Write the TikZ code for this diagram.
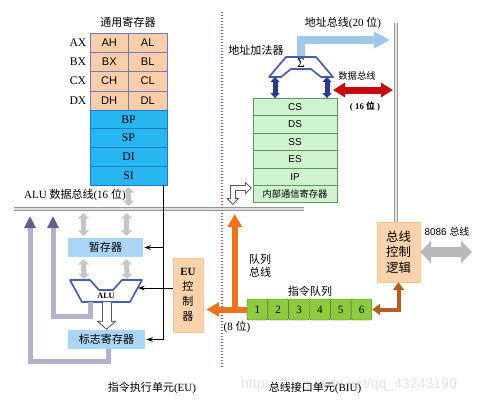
\documentclass[tikz,border=0pt]{standalone}
\usepackage{fontspec}
\setmainfont{Liberation Serif}
\setsansfont{Liberation Sans}
\newfontfamily\cjk{Noto Sans CJK SC}
\usetikzlibrary{arrows.meta,calc,positioning}
\definecolor{regorange}{RGB}{250,206,168}
\definecolor{regedge}{RGB}{112,122,192}
\definecolor{regblue}{RGB}{40,182,240}
\definecolor{regblueedge}{RGB}{30,120,200}
\definecolor{boxblue}{RGB}{170,213,245}
\definecolor{peach}{RGB}{250,210,172}
\definecolor{seggreen}{RGB}{206,243,206}
\definecolor{segedge}{RGB}{95,150,95}
\definecolor{qgreen}{RGB}{142,202,62}
\definecolor{qedge}{RGB}{72,120,32}
\definecolor{divcol}{RGB}{165,85,140}
\definecolor{redbus}{RGB}{200,10,10}
\definecolor{qorange}{RGB}{236,116,30}
\definecolor{qbrown}{RGB}{182,92,32}
\definecolor{addrblue}{RGB}{160,200,232}
\definecolor{lavender}{RGB}{178,178,204}
\definecolor{slate}{RGB}{96,96,136}
\definecolor{busgray}{RGB}{150,150,150}
\definecolor{sumnavy}{RGB}{44,56,140}
\definecolor{sumedge}{RGB}{72,92,172}
\tikzset{
  hreg/.style={draw=regedge, fill=regorange, minimum width=11.55mm, minimum height=5.78mm,
    inner sep=0pt, font=\sffamily\fontsize{9.5}{11}\selectfont},
  preg/.style={draw=regblueedge, fill=regblue, minimum width=23.1mm, minimum height=5.63mm,
    inner sep=0pt, font=\fontsize{10}{11}\selectfont},
  sreg/.style={draw=segedge, fill=seggreen, minimum width=25.2mm, minimum height=5.22mm,
    inner sep=0pt, font=\sffamily\fontsize{8.5}{10}\selectfont},
  qcell/.style={draw=qedge, fill=qgreen, rounded corners=0.4mm, minimum width=6.25mm,
    minimum height=6.3mm, inner sep=0pt, font=\fontsize{9.5}{11}\selectfont},
  ubox/.style={fill=boxblue, minimum width=22.5mm, minimum height=5.7mm, inner sep=0pt,
    font=\cjk\fontsize{9.4}{11}\selectfont},
  cbox/.style={fill=peach, draw=peach!85!orange, inner sep=0pt},
  hbus/.style={draw=busgray, line width=0.5mm, double=gray!25, double distance=0.4mm},
  vbus/.style={draw=busgray, line width=0.45mm, double=gray!20, double distance=0.5mm},
  divider/.style={draw=divcol, line width=0.4mm, dash pattern=on 0.4mm off 0.5mm},
  grayarrow/.style={draw=gray!45, line width=1.5mm,
    {Triangle[width=3.3mm,length=1.6mm]}-{Triangle[width=3.3mm,length=1.6mm]}},
  flagpath/.style={draw=lavender, line width=1.5mm, line join=miter,
    -{Triangle[width=3.3mm,length=3.6mm,color=slate]}},
  ctrl/.style={draw=black, line width=0.3mm, -{Stealth[length=2mm,width=1.4mm]}},
  hollowbig/.style={draw=gray!70!black, line width=3mm, -{Triangle[width=6mm,length=2.7mm]},
    postaction={draw=white, line width=2.4mm, shorten >=0.4mm,
      -{Triangle[width=4.43mm,length=2mm]}}},
  hollowsmall/.style={draw=gray!70!black, line width=1.8mm, line join=miter,
    {Triangle[width=3.9mm,length=2.1mm]}-{Triangle[width=3.9mm,length=2.1mm]},
    postaction={draw=white, line width=1.2mm, shorten >=0.44mm, shorten <=0.44mm,
      {Triangle[width=2.52mm,length=1.36mm]}-{Triangle[width=2.52mm,length=1.36mm]}}},
  outline/.style={draw=sumedge, line width=0.5mm, fill=white, line join=round},
  addrarrow/.style={draw=addrblue, line width=2.4mm, line join=miter,
    -{Triangle[width=4.8mm,length=4.8mm]}},
  databus/.style={draw=redbus, line width=2.1mm,
    {Triangle[width=4.2mm,length=3.6mm]}-{Triangle[width=4.2mm,length=3.6mm]}},
  segarrow/.style={draw=sumnavy, line width=1.5mm,
    {Triangle[width=2.7mm,length=1.5mm]}-{Triangle[width=2.7mm,length=1.5mm]}},
  qarrow/.style={draw=qorange, line width=1.8mm, -{Triangle[width=4.2mm,length=3.9mm]}},
  brownarrow/.style={draw=qbrown, line width=1.2mm, line join=miter,
    {Triangle[width=3.3mm,length=2.4mm]}-{Triangle[width=3.3mm,length=2.4mm]}},
  extarrow/.style={draw=gray!55, line width=3mm,
    {Triangle[width=6.6mm,length=3.3mm]}-{Triangle[width=6.6mm,length=3.3mm]}}
}
\begin{document}
\begin{tikzpicture}[x=0.3mm, y=-0.3mm, font=\fontsize{9.4}{11}\selectfont]
\useasboundingbox (0,0) rectangle (480,403);
%
\draw (128,22) node (gentitle) {\cjk 通用寄存器};
\draw (109.25,42.6) node[hreg] (ah) {AH};
\draw (147.75,42.6) node[hreg] (al) {AL};
\draw (109.25,61.9) node[hreg] (bh) {BX};
\draw (147.75,61.9) node[hreg] (bl) {BL};
\draw (109.25,81.1) node[hreg] (ch) {CH};
\draw (147.75,81.1) node[hreg] (cl) {CL};
\draw (109.25,100.4) node[hreg] (dh) {DH};
\draw (147.75,100.4) node[hreg] (dl) {DL};
\draw (78,42.6) node[font=\fontsize{10}{11}\selectfont] (ax) {AX};
\draw (78,61.9) node[font=\fontsize{10}{11}\selectfont] (bx) {BX};
\draw (78,81.1) node[font=\fontsize{10}{11}\selectfont] (cx) {CX};
\draw (78,100.4) node[font=\fontsize{10}{11}\selectfont] (dx) {DX};
\draw (128.5,119.4) node[preg] (bp) {BP};
\draw (128.5,138.1) node[preg] (sp) {SP};
\draw (128.5,156.9) node[preg] (di) {DI};
\draw (128.5,175.6) node[preg] (si) {SI};
%
\coordinate (busL) at (14,209);
\coordinate (busR) at (304,209);
\draw[hbus] (busL) -- (busR);
\draw (20,195) node[anchor=west] (alubus) {ALU {\cjk 数据总线}(16 {\cjk 位})};
\draw[grayarrow] ($(si.south)+(0,2)$) -- ($(si.south |- busL)+(0,-3)$);
%
\draw (105.5,247.5) node[ubox] (temp) {暂存器};
\draw[grayarrow] ($(temp.north)+(-22,-2)$) -- ($(temp.north |- busL)+(-22,4)$);
\draw[grayarrow] ($(temp.north)+(21,-2)$) -- ($(temp.north |- busL)+(21,4)$);
\coordinate (alutop) at (106,280);
\draw[grayarrow] ($(temp.south)+(-22,2)$) -- ($(alutop)+(-22,-1)$);
\draw[grayarrow] ($(temp.south)+(21,2)$) -- ($(alutop)+(21,-1)$);
\draw[outline] (70,280) -- (90,280) -- (99,290) -- (113,290) -- (122,280) -- (142,280)
  -- (130,302) -- (82,302) -- cycle;
\draw (106,296) node[font=\bfseries\fontsize{7}{8}\selectfont] (alu) {ALU};
\draw (106.5,339.5) node[ubox, minimum width=23.1mm] (flag) {标志寄存器};
\draw[hollowbig] ($(flag.north |- alutop)+(0,22)$) -- (flag.north);
\draw[flagpath] ($(flag.south)+(1.5,0)$) -- ++(0,12) -| ($(busL)+(16,7)$);
\draw[flagpath] ($(alutop)+(-16,22)$) -- ++(0,14) -| ($(busL)+(39,7)$);
%
\draw (188,295) node[cbox, minimum width=9mm, minimum height=22.2mm, align=center,
  font=\fontsize{9.4}{12.8}\selectfont] (eucu)
  {\textbf{EU}\\{\cjk 控}\\{\cjk 制}\\{\cjk 器}};
\coordinate (ctrltop) at ($(si.south east)+(-4,0)$);
\draw[ctrl] (ctrltop) -- (ctrltop |- flag.east) -- ([xshift=0.3mm]flag.east);
\draw[ctrl] (ctrltop |- temp.east) -- ([xshift=0.3mm]temp.east);
\coordinate (aluE) at (138,288);
\draw[ctrl] (eucu.west |- aluE) -- (aluE);
%
\coordinate (divtop) at (222,12);
\coordinate (divbot) at (222,367);
\draw[divider] (divtop) -- (divbot);
%
\draw (256,50) node (addtitle) {\cjk 地址加法器};
\coordinate (sumtop) at (301,57);
\coordinate (addrend) at (390,40);
\draw[addrarrow] (sumtop) |- (addrend);
\draw (343,23) node (addrbus) {{\cjk 地址总线}(20 {\cjk 位})};
\draw[outline] (286,57) -- (316,57) -- (333,77) -- (321,77) -- (311,69) -- (291,69)
  -- (281,77) -- (269,77) -- cycle;
\draw (301,63.5) node[inner sep=0pt, font=\fontsize{11.5}{12}\selectfont] (sum) {Σ};
%
\draw (295,107) node[sreg] (cs) {CS};
\draw (295,124.4) node[sreg] (ds) {DS};
\draw (295,141.8) node[sreg] (ss) {SS};
\draw (295,159.2) node[sreg] (es) {ES};
\draw (295,176.6) node[sreg] (ip) {IP};
\draw (295,194) node[sreg, font=\cjk\fontsize{7.9}{9}\selectfont] (ircomm) {内部通信寄存器};
\coordinate (sumL) at (275,77);
\coordinate (sumR) at (327,77);
\draw[segarrow] (sumL) -- (sumL |- cs.north);
\draw[segarrow] (sumR) -- (sumR |- cs.north);
\draw[hollowsmall] ($(ircomm.north west |- busL)+(-20,-4)$) |- ($(ircomm.north west)+(-1,3)$);
%
\draw (398.5,252) node[cbox, minimum width=12.9mm, minimum height=18mm, align=center,
  font=\cjk\fontsize{10.6}{13.2}\selectfont] (bcl) {总线\\控制\\逻辑};
\coordinate (vbustop) at (396,23);
\draw[vbus] (vbustop) -- (vbustop |- bcl.north);
\coordinate (dataL) at (333,90);
\draw[databus] (dataL) -- ($(vbustop |- dataL)+(-3,0)$);
\draw (357,76) node[font=\cjk\fontsize{8}{9}\selectfont] (datalbl) {数据总线};
\draw (365,107) node[font=\bfseries\fontsize{7.5}{9}\selectfont] (databits) {( 16 {\cjk 位} )};
\coordinate (extbus) at (472,252);
\draw[extarrow] (bcl.east) -- (extbus);
\draw (447,232) node[font=\sffamily\fontsize{8.5}{10}\selectfont] (extlbl) {8086 {\cjk 总线}};
%
\foreach \i in {1,...,6}
  \draw ({247+20.83*(\i-0.5)},309.5) node[qcell] (q\i) {\i};
\draw (310,291) node (qtitle) {\cjk 指令队列};
\draw[brownarrow] (q6.east) -| (bcl.south);
\coordinate (qjoin) at ($(q1.west)+(-12,0)$);
\draw[qarrow] (q1.west) -- ($(eucu.east |- q1.west)+(3,0)$);
\draw[qarrow] ($(qjoin)+(0,3)$) -- ($(qjoin |- busL)+(0,5)$);
\draw (245,266) node[anchor=west, align=left, font=\cjk\fontsize{9.4}{11.5}\selectfont] (qlbl)
  {队列\\总线};
\draw (237,327) node (qbits) {(8 {\cjk 位})};
%
\draw (349,385) node[text=gray!22, font=\sffamily\fontsize{12}{14}\selectfont] (wmark)
  {https://blog.csdn.net/qq\_43243190};
\draw (152,388) node (eulbl) {{\cjk 指令执行单元}(EU)};
\draw (315,388) node (biulbl) {{\cjk 总线接口单元}(BIU)};
\end{tikzpicture}
\end{document}
